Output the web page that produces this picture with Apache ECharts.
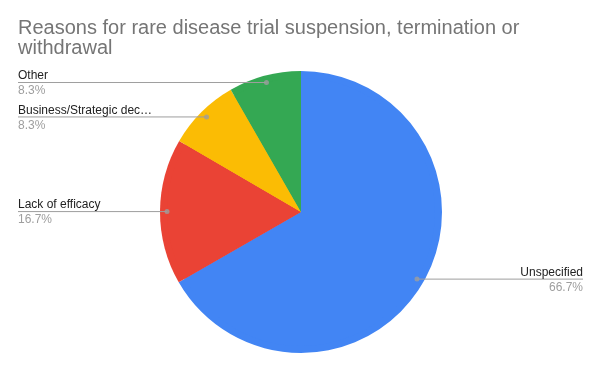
<!DOCTYPE html>
<html>
<head>
<meta charset="utf-8">
<script src="https://cdn.jsdelivr.net/npm/echarts@6/dist/echarts.min.js"></script>
<style>
html, body { margin: 0; padding: 0; background: #fff; }
#chart { width: 602px; height: 372px; }
</style>
</head>
<body>
<div id="chart"></div>
<script>
const categories = ['Unspecified', 'Lack of efficacy', 'Business/Strategic dec\u2026', 'Other'];
const percentages = [66.7, 16.7, 8.3, 8.3];
const colors = ['#4285f4', '#ea4335', '#fbbc04', '#34a853'];
const titleText = 'Reasons for rare disease trial suspension, termination or\nwithdrawal';

const FONT = '"Liberation Sans", Arial, Helvetica, sans-serif';
const chart = echarts.init(document.getElementById('chart'), null, { renderer: 'canvas' });

const pieData = categories.map((c, i) => ({ name: c, value: percentages[i], itemStyle: { color: colors[i] } }));

// mid angle of each slice (as percent of total) for the label dots
const total = percentages.reduce((a, b) => a + b, 0);
let cum = 0;
const dotData = percentages.map(v => {
  const mid = (cum + v / 2) / total * 100;
  cum += v;
  return [1, mid];
});

const CENTER = [301, 212];
const R = 141;
const R_LABEL = 134;

chart.setOption({
  animation: false,
  backgroundColor: '#ffffff',
  title: {
    text: titleText,
    left: 18,
    top: 18,
    padding: 0,
    textStyle: { fontFamily: FONT, fontSize: 20, fontWeight: 'normal', color: '#757575', lineHeight: 20 }
  },
  polar: { center: CENTER, radius: R_LABEL },
  angleAxis: { type: 'value', min: 0, max: 100, startAngle: 90, clockwise: true, show: false },
  radiusAxis: { type: 'value', min: 0, max: 1, show: false },
  series: [
    {
      type: 'pie',
      center: CENTER,
      radius: R,
      left: 0, right: 0, top: 0, bottom: 0,
      startAngle: 90,
      clockwise: true,
      silent: true,
      data: pieData,
      itemStyle: { borderWidth: 0 },
      label: { show: false },
      labelLine: { show: false }
    },
    {
      type: 'pie',
      center: CENTER,
      radius: R_LABEL,
      left: 0, right: 1, top: 0, bottom: 0,
      startAngle: 90,
      clockwise: true,
      silent: true,
      z: 3,
      data: pieData,
      itemStyle: { color: 'rgba(0,0,0,0)', borderWidth: 0 },
      label: {
        show: true,
        alignTo: 'edge',
        edgeDistance: 18,
        minMargin: 1,
        fontFamily: FONT,
        formatter: p => '{n|' + p.name + '}\n{p|' + p.value.toFixed(1) + '%}',
        rich: {
          n: { fontFamily: FONT, fontSize: 12, color: '#222222', lineHeight: 17 },
          p: { fontFamily: FONT, fontSize: 12, color: '#9e9e9e', lineHeight: 13 }
        }
      },
      labelLine: {
        show: true,
        length: 0,
        length2: 10,
        smooth: false,
        lineStyle: { color: '#9e9e9e', width: 1 }
      },
      labelLayout: function (params) {
        const isLeft = params.labelRect.x < chart.getWidth() / 2;
        const points = params.labelLinePoints;
        if (points) {
          points[2][0] = isLeft ? params.labelRect.x : params.labelRect.x + params.labelRect.width;
          points[2][1] = points[1][1];
        }
        return { labelLinePoints: points };
      }
    },
    {
      type: 'scatter',
      coordinateSystem: 'polar',
      data: dotData,
      symbol: 'circle',
      symbolSize: 5,
      silent: true,
      z: 5,
      itemStyle: { color: '#9e9e9e' }
    }
  ]
});
</script>
</body>
</html>
